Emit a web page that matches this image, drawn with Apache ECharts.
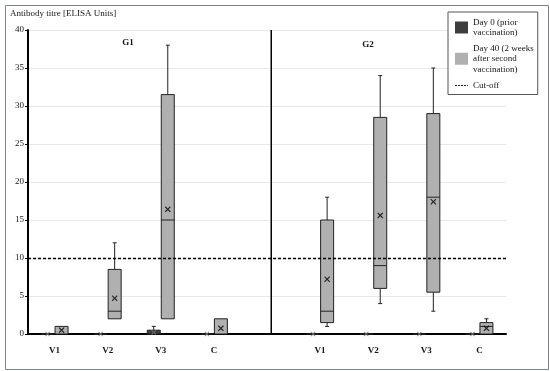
<!DOCTYPE html>
<html><head><meta charset="utf-8">
<script src="https://cdn.jsdelivr.net/npm/echarts@6/dist/echarts.min.js"></script>
<style>html,body{margin:0;padding:0;background:#fff}#c{width:550px;height:371px}</style>
</head><body><div id="c"></div>
<script>
// ---- data ----
const categories = ['V1', 'V2', 'V3', 'C', '', 'V1', 'V2', 'V3', 'C'];
const groupLabels = ['G1', 'G2'];
const yTicks = [0, 5, 10, 15, 20, 25, 30, 35, 40];
// [min, q1, median, q3, max] per category (null = gap between groups)
const day0Box = [
  [0, 0, 0, 0, 0], [0, 0, 0, 0, 0], [0, 0, 0, 0.5, 1], [0, 0, 0, 0, 0], null,
  [0, 0, 0, 0, 0], [0, 0, 0, 0, 0], [0, 0, 0, 0, 0], [0, 0, 0, 0, 0]
];
const day40Box = [
  [0, 0, 0, 1, 1], [2, 2, 3, 8.5, 12], [2, 2, 15, 31.5, 38], [0, 0, 0, 2, 2], null,
  [1, 1.5, 3, 15, 18], [4, 6, 9, 28.5, 34], [3, 5.5, 18, 29, 35], [0, 0, 1, 1.5, 2]
];
const day0Mean = [0, 0, 0.2, 0, null, 0, 0, 0, 0];
const day40Mean = [0.5, 4.7, 16.4, 0.75, null, 7.2, 15.6, 17.4, 0.75];
const cutOff = 10;
const groupDividerAt = 4.58;
const legendNames = ['Day 0 (prior vaccination)', 'Day 40 (2 weeks after second vaccination)', 'Cut-off'];
const legendLines = {
  'Day 0 (prior vaccination)': 'Day 0 (prior\nvaccination)',
  'Day 40 (2 weeks after second vaccination)': 'Day 40 (2 weeks\nafter second\nvaccination)',
  'Cut-off': 'Cut-off'
};

// ---- build ----
const FONT = '"Liberation Serif", "DejaVu Serif", serif';
const TXT = '#151515';
const BOX_W = 13, OFF = 7, CAP = 2;

function toRows(arr) {
  const rows = [];
  arr.forEach((b, i) => { if (b) rows.push([i].concat(b)); });
  return rows;
}
function meanRows(arr) {
  const rows = [];
  arr.forEach((m, i) => { if (m !== null) rows.push([i, m]); });
  return rows;
}
function boxRender(offset, fill) {
  return function (params, api) {
    const i = api.value(0);
    const v = [1, 2, 3, 4, 5].map(k => api.value(k));
    const cx = api.coord([i, 0])[0] + offset;
    const y = v.map(val => api.coord([i, val])[1]);
    const hw = BOX_W / 2;
    const st = { stroke: '#222', lineWidth: 1, fill: null };
    const ch = [];
    if (v[4] > v[3]) {
      ch.push({ type: 'line', shape: { x1: cx, y1: y[4], x2: cx, y2: y[3] }, style: st });
      ch.push({ type: 'line', shape: { x1: cx - CAP, y1: y[4], x2: cx + CAP, y2: y[4] }, style: st });
    }
    if (v[0] < v[1]) {
      ch.push({ type: 'line', shape: { x1: cx, y1: y[1], x2: cx, y2: y[0] }, style: st });
      ch.push({ type: 'line', shape: { x1: cx - CAP, y1: y[0], x2: cx + CAP, y2: y[0] }, style: st });
    }
    ch.push({ type: 'rect', shape: { x: cx - hw, y: y[3], width: BOX_W, height: y[1] - y[3] },
      style: { fill: fill, stroke: '#222', lineWidth: 1 } });
    if (v[2] > v[1] && v[2] < v[3]) {
      ch.push({ type: 'line', shape: { x1: cx - hw, y1: y[2], x2: cx + hw, y2: y[2] }, style: st });
    }
    return { type: 'group', children: ch };
  };
}
const xMark = 'path://M0,1.4L1.4,0L5,3.6L8.6,0L10,1.4L6.4,5L10,8.6L8.6,10L5,6.4L1.4,10L0,8.6L3.6,5Z';
const dashIcon = 'path://M0,0L0.01,0Z M0,12L0.01,12Z M0,5.6h2v0.9h-2z M3,5.6h2v0.9h-2z M6,5.6h2v0.9h-2z M9,5.6h2v0.9h-2z M12,5.6h1v0.9h-1z';

const chart = echarts.init(document.getElementById('c'), null, { renderer: 'canvas' });
chart.setOption({
  animation: false,
  textStyle: { fontFamily: FONT },
  grid: { left: 28, right: 44, top: 30, bottom: 37 },
  xAxis: [{
    type: 'category', data: categories,
    axisLine: { lineStyle: { color: '#000', width: 2 } },
    axisTick: { show: false },
    axisLabel: { fontFamily: FONT, fontWeight: 'bold', fontSize: 9, color: TXT, margin: 12 },
    splitLine: { show: false }
  }, {
    type: 'value', min: 0, max: categories.length, show: false
  }],
  yAxis: {
    type: 'value', min: yTicks[0], max: yTicks[yTicks.length - 1], interval: 5,
    axisLine: { show: true, lineStyle: { color: '#000', width: 2 } },
    axisTick: { show: true, length: 3, lineStyle: { color: '#000' } },
    axisLabel: { fontFamily: FONT, fontSize: 9, color: TXT, margin: 4 },
    splitLine: { lineStyle: { color: '#e8e8e8', width: 1 } }
  },
  legend: {
    orient: 'vertical', left: 448, top: 12, width: 80,
    padding: [5, 4, 3, 7], itemGap: 5, itemWidth: 13, itemHeight: 12,
    backgroundColor: '#fff', borderColor: '#555', borderWidth: 1,
    selectedMode: false,
    textStyle: { fontFamily: FONT, fontSize: 9, color: TXT, lineHeight: 10.5 },
    formatter: name => legendLines[name],
    data: [
      { name: legendNames[0], icon: 'rect' },
      { name: legendNames[1], icon: 'rect' },
      { name: legendNames[2], icon: dashIcon, itemStyle: { color: '#222', borderWidth: 0 } }
    ]
  },
  graphic: [
    { type: 'rect', left: 3, top: 3, shape: { width: 543, height: 364 },
      style: { fill: null, stroke: '#7b838c', lineWidth: 1 }, silent: true, z: -1 },
    { type: 'text', left: 10, top: 9, style: { text: 'Antibody titre [ELISA Units]', font: '9px ' + FONT, fill: TXT } },
    { type: 'text', x: 128, y: 43, style: { text: groupLabels[0], font: 'bold 9px ' + FONT, fill: TXT, align: 'center', verticalAlign: 'middle' } },
    { type: 'text', x: 368, y: 45, style: { text: groupLabels[1], font: 'bold 9px ' + FONT, fill: TXT, align: 'center', verticalAlign: 'middle' } }
  ],
  series: [
    {
      name: legendNames[0], type: 'custom', renderItem: boxRender(-OFF, '#3d3d3d'),
      itemStyle: { color: '#3d3d3d' }, encode: { x: 0, y: [1, 2, 3, 4, 5] },
      data: toRows(day0Box), z: 3
    },
    {
      name: legendNames[1], type: 'custom', renderItem: boxRender(OFF, '#b0b0b0'),
      itemStyle: { color: '#b0b0b0' }, encode: { x: 0, y: [1, 2, 3, 4, 5] },
      data: toRows(day40Box), z: 3
    },
    {
      name: legendNames[2], type: 'line', data: [], symbol: 'none',
      lineStyle: { type: [3, 2], color: '#000', width: 1.2 }, itemStyle: { color: '#000' },
      markLine: { silent: true, symbol: 'none', label: { show: false },
        lineStyle: { type: [3, 2], color: '#000', width: 1.3 },
        data: [{ yAxis: cutOff }] }
    },
    {
      name: 'mean0', type: 'scatter', symbol: xMark, symbolSize: 5, symbolOffset: [-OFF, 0],
      itemStyle: { color: '#777' }, data: meanRows(day0Mean), z: 5, silent: true
    },
    {
      name: 'mean40', type: 'scatter', symbol: xMark, symbolSize: 6, symbolOffset: [OFF, 0],
      itemStyle: { color: '#000' }, data: meanRows(day40Mean), z: 5, silent: true
    },
    {
      name: 'divider', type: 'line', xAxisIndex: 1, symbol: 'none', silent: true,
      lineStyle: { color: '#000', width: 1.5 },
      data: [[groupDividerAt, yTicks[0]], [groupDividerAt, yTicks[yTicks.length - 1]]]
    }
  ]
});
</script></body></html>
